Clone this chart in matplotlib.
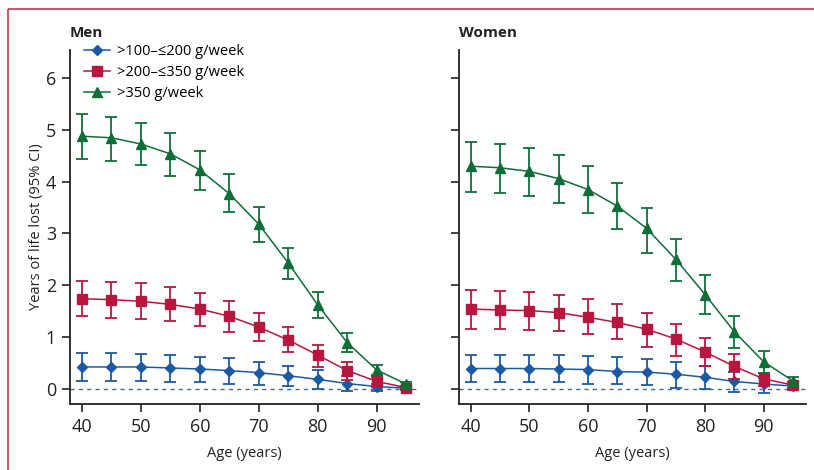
import matplotlib
matplotlib.use("Agg")
import matplotlib.pyplot as plt
from matplotlib.lines import Line2D
import numpy as np

plt.rcParams["font.family"] = ["Open Sans", "DejaVu Sans"]

ages = [40, 45, 50, 55, 60, 65, 70, 75, 80, 85, 90, 95]
labels = [">100\u2013\u2264200 g/week", ">200\u2013\u2264350 g/week", ">350 g/week"]

# men: estimate, lower, upper
men_low = [0.42, 0.42, 0.42, 0.40, 0.38, 0.35, 0.31, 0.25, 0.18, 0.10, 0.04, 0.01]
men_low_lo = [0.15, 0.15, 0.15, 0.13, 0.13, 0.10, 0.08, 0.05, 0.00, -0.04, -0.04, -0.02]
men_low_hi = [0.69, 0.69, 0.67, 0.65, 0.62, 0.60, 0.52, 0.44, 0.37, 0.25, 0.10, 0.03]

men_mid = [1.74, 1.72, 1.69, 1.63, 1.54, 1.40, 1.19, 0.94, 0.65, 0.35, 0.14, 0.02]
men_mid_lo = [1.40, 1.37, 1.35, 1.30, 1.22, 1.10, 0.93, 0.70, 0.42, 0.17, 0.04, -0.01]
men_mid_hi = [2.09, 2.06, 2.04, 1.97, 1.85, 1.69, 1.47, 1.19, 0.85, 0.52, 0.23, 0.05]

men_high = [4.88, 4.85, 4.73, 4.54, 4.23, 3.77, 3.18, 2.43, 1.62, 0.89, 0.36, 0.09]
men_high_lo = [4.44, 4.41, 4.32, 4.11, 3.84, 3.41, 2.83, 2.12, 1.37, 0.71, 0.26, 0.04]
men_high_hi = [5.31, 5.26, 5.14, 4.94, 4.59, 4.14, 3.51, 2.72, 1.87, 1.07, 0.45, 0.13]

women_low = [0.39, 0.39, 0.39, 0.38, 0.37, 0.33, 0.32, 0.28, 0.22, 0.14, 0.09, 0.05]
women_low_lo = [0.12, 0.12, 0.12, 0.12, 0.09, 0.09, 0.07, 0.02, -0.01, -0.06, -0.08, -0.02]
women_low_hi = [0.66, 0.66, 0.66, 0.66, 0.64, 0.61, 0.57, 0.51, 0.44, 0.33, 0.20, 0.08]

women_mid = [1.54, 1.52, 1.51, 1.47, 1.38, 1.28, 1.15, 0.96, 0.71, 0.43, 0.19, 0.07]
women_mid_lo = [1.16, 1.16, 1.13, 1.11, 1.06, 0.96, 0.81, 0.64, 0.43, 0.19, 0.05, 0.01]
women_mid_hi = [1.91, 1.88, 1.86, 1.81, 1.74, 1.63, 1.46, 1.25, 0.98, 0.68, 0.30, 0.12]

women_high = [4.30, 4.27, 4.20, 4.06, 3.85, 3.53, 3.10, 2.50, 1.82, 1.10, 0.52, 0.15]
women_high_lo = [3.80, 3.78, 3.73, 3.58, 3.39, 3.08, 2.63, 2.09, 1.44, 0.79, 0.30, 0.09]
women_high_hi = [4.77, 4.72, 4.65, 4.52, 4.30, 3.98, 3.50, 2.90, 2.19, 1.41, 0.72, 0.23]

colors = ["#1b5aa2", "#b8163f", "#0f6e38"]
markers = ["D", "s", "^"]
msizes = [5, 6.5, 7]

panels = [
    ("Men", [(men_low, men_low_lo, men_low_hi),
             (men_mid, men_mid_lo, men_mid_hi),
             (men_high, men_high_lo, men_high_hi)]),
    ("Women", [(women_low, women_low_lo, women_low_hi),
               (women_mid, women_mid_lo, women_mid_hi),
               (women_high, women_high_lo, women_high_hi)]),
]

fig = plt.figure(figsize=(8.14, 4.70), dpi=100)
axes = [fig.add_axes([0.086, 0.140, 0.429, 0.754]),
        fig.add_axes([0.564, 0.140, 0.426, 0.754])]

text_col = "#222222"
for ax, (name, series) in zip(axes, panels):
    ax.axhline(0, color="#4a6a85", lw=1, ls=(0, (3, 3)), zorder=1)
    for i, (est, lo, hi) in enumerate(series):
        est = np.array(est)
        yerr = [est - np.array(lo), np.array(hi) - est]
        ax.errorbar(ages, est, yerr=yerr, color=colors[i], lw=1.1,
                    marker=markers[i], ms=msizes[i], capsize=4.5,
                    elinewidth=1.3, capthick=1.3, zorder=2 + i)
    ax.set_xlim(38, 97.2)
    ax.set_ylim(-0.3, 6.55)
    ax.set_xticks([40, 50, 60, 70, 80, 90])
    ax.set_yticks([0, 1, 2, 3, 4, 5, 6])
    for s in ["top", "right"]:
        ax.spines[s].set_visible(False)
    for s in ["left", "bottom"]:
        ax.spines[s].set_linewidth(1.3)
        ax.spines[s].set_color(text_col)
    ax.tick_params(direction="out", length=6, width=1.2, labelsize=13,
                   colors=text_col, pad=4)
    ax.set_xlabel("Age (years)", fontsize=10.5, color=text_col, labelpad=7)
    ax.set_title(name, loc="left", fontsize=11, fontweight="bold",
                 color=text_col, pad=9, x=0.0)

axes[0].set_ylabel("Years of life lost (95% CI)", fontsize=10.5,
                   color=text_col, labelpad=1)
axes[1].tick_params(axis="y", labelleft=False)

handles = [Line2D([], [], color=colors[i], lw=1.1, marker=markers[i],
                  ms=msizes[i]) for i in range(3)]
axes[0].legend(handles, labels, loc="upper left", bbox_to_anchor=(0.01, 1.045),
               frameon=False, fontsize=10.5, handlelength=1.8,
               handletextpad=0.45, labelspacing=0.4, borderaxespad=0.3)

# Lancet-style frame
frame_col = "#c8334f"
fig.add_artist(Line2D([0.0098, 1.0], [0.981, 0.981], color=frame_col, lw=1.2,
                      solid_capstyle="butt", transform=fig.transFigure))
fig.add_artist(Line2D([0.0098, 0.0098], [0.0, 0.981], color=frame_col, lw=1.2,
                      solid_capstyle="butt", transform=fig.transFigure))

fig.savefig("out.png", dpi=100)
